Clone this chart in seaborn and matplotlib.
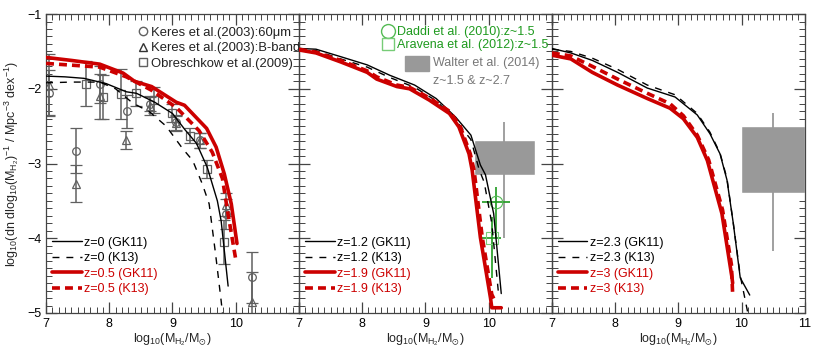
import matplotlib
matplotlib.use("Agg")
import matplotlib.pyplot as plt
from matplotlib.lines import Line2D
from matplotlib.patches import Rectangle
from matplotlib.ticker import MultipleLocator
import seaborn as sns

# ---- model curves ----
# panel 1: z=0 and z=0.5
gk11_z0_x = [7.0, 7.3, 7.6, 7.95, 8.27, 8.43, 8.72, 9.0, 9.2, 9.38, 9.55, 9.71, 9.77, 9.88]
gk11_z0_y = [-1.83, -1.84, -1.86, -1.93, -2.04, -2.06, -2.18, -2.33, -2.55, -2.73, -3.05, -3.5, -3.77, -4.64]
k13_z0_x = [7.0, 7.4, 7.85, 8.1, 8.37, 8.64, 8.9, 9.16, 9.32, 9.47, 9.58, 9.68, 9.77, 9.79]
k13_z0_y = [-1.92, -1.91, -1.91, -2.0, -2.19, -2.31, -2.5, -2.8, -2.96, -3.27, -3.54, -4.2, -4.84, -5.0]
gk11_z05_x = [7.0, 7.4, 7.85, 8.22, 8.4, 8.67, 9.06, 9.19, 9.54, 9.69, 9.82, 9.93, 10.02]
gk11_z05_y = [-1.58, -1.62, -1.67, -1.79, -1.9, -1.97, -2.18, -2.22, -2.53, -2.78, -3.14, -3.54, -4.07]
k13_z05_x = [7.0, 7.85, 8.27, 8.67, 9.06, 9.42, 9.63, 9.79, 9.87, 10.0]
k13_z05_y = [-1.66, -1.71, -1.84, -2.02, -2.25, -2.56, -2.85, -3.2, -3.63, -4.28]

# panel 2: z=1.2 and z=1.9
gk11_z12_x = [7.0, 7.27, 7.66, 8.08, 8.44, 8.83, 9.17, 9.48, 9.72, 9.87, 9.95, 10.08, 10.2]
gk11_z12_y = [-1.46, -1.47, -1.57, -1.68, -1.82, -1.95, -2.13, -2.38, -2.62, -3.02, -3.15, -3.67, -4.74]
k13_z12_x = [7.0, 7.27, 7.66, 8.08, 8.44, 8.83, 9.17, 9.48, 9.72, 9.85, 9.93, 10.05, 10.16]
k13_z12_y = [-1.47, -1.49, -1.6, -1.71, -1.85, -1.98, -2.16, -2.42, -2.68, -3.08, -3.25, -3.8, -4.77]
gk11_z19_x = [7.0, 7.27, 7.66, 8.08, 8.23, 8.55, 8.75, 9.06, 9.38, 9.53, 9.69, 9.74, 9.87, 10.03, 10.05, 10.2]
gk11_z19_y = [-1.48, -1.52, -1.64, -1.78, -1.87, -1.97, -2.0, -2.15, -2.33, -2.51, -2.87, -3.09, -3.99, -4.8, -4.93, -4.93]
k13_z19_x = [7.0, 7.27, 7.66, 8.08, 8.23, 8.55, 8.75, 9.06, 9.38, 9.55, 9.71, 9.77, 9.9, 10.05, 10.1]
k13_z19_y = [-1.47, -1.51, -1.62, -1.76, -1.84, -1.95, -1.98, -2.12, -2.3, -2.5, -2.87, -3.09, -3.99, -4.75, -4.84]

# panel 3: z=2.3 and z=3
gk11_z23_x = [7.0, 7.3, 7.64, 8.04, 8.51, 8.95, 9.3, 9.5, 9.66, 9.77, 9.87, 9.98, 10.13]
gk11_z23_y = [-1.46, -1.52, -1.62, -1.78, -1.99, -2.11, -2.35, -2.6, -2.87, -3.22, -3.8, -4.53, -4.76]
k13_z23_x = [7.0, 7.3, 7.64, 8.04, 8.51, 8.95, 9.3, 9.5, 9.66, 9.77, 9.87, 9.98, 10.1]
k13_z23_y = [-1.47, -1.5, -1.59, -1.74, -1.95, -2.08, -2.33, -2.58, -2.86, -3.2, -3.8, -4.5, -5.0]
gk11_z3_x = [7.0, 7.3, 7.64, 8.04, 8.51, 8.87, 9.08, 9.3, 9.46, 9.69, 9.85, 9.86]
gk11_z3_y = [-1.55, -1.6, -1.78, -1.95, -2.13, -2.26, -2.4, -2.65, -2.96, -3.67, -4.53, -4.6]
k13_z3_x = [7.0, 7.3, 7.64, 8.04, 8.51, 8.87, 9.08, 9.3, 9.48, 9.7, 9.84, 9.86]
k13_z3_y = [-1.52, -1.56, -1.7, -1.87, -2.06, -2.2, -2.36, -2.62, -2.95, -3.62, -4.35, -4.75]

# ---- observations ----
keres60_x = [7.05, 7.47, 7.85, 8.28, 8.65, 9.05, 9.44, 9.85, 10.26]
keres60_y = [-2.05, -2.83, -1.94, -2.30, -2.20, -2.45, -2.69, -3.68, -4.52]
keres60_err = [0.3, 0.3, 0.25, 0.22, 0.1, 0.1, 0.1, 0.2, 0.34]
keresB_x = [7.05, 7.47, 7.85, 8.26, 8.65, 9.05, 9.44, 9.85, 10.26]
keresB_y = [-1.95, -3.27, -2.10, -2.68, -2.23, -2.46, -2.69, -3.55, -4.85]
keresB_err = [0.42, 0.25, 0.3, 0.12, 0.12, 0.1, 0.1, 0.15, 0.4]
obres_x = [7.63, 7.9, 8.18, 8.43, 8.70, 9.0, 9.27, 9.54, 9.82]
obres_y = [-1.93, -2.11, -2.07, -2.06, -2.15, -2.33, -2.63, -3.07, -4.05]
obres_err = [0.3, 0.3, 0.33, 0.17, 0.17, 0.12, 0.1, 0.12, 0.3]

daddi_x, daddi_y = [10.12], [-3.52]
daddi_xerr, daddi_yerr = [[0.23], [0.22]], [[0.48], [0.21]]
aravena_x, aravena_y = [10.06], [-4.0]
aravena_xerr, aravena_yerr = [[0.19], [0.13]], [[0.53], [0.28]]

# Walter et al. (2014) boxes: x range, y range, whisker
walter2_x = [9.77, 10.73]
walter2_y = [-3.15, -2.69]
walter2_wx, walter2_wy = 10.25, [-4.0, -2.45]
walter3_x = [9.99, 11.0]
walter3_y = [-3.4, -2.5]
walter3_wx, walter3_wy = 10.5, [-4.17, -2.33]

RED = '#cc0000'
GREEN = '#1e9a1e'
GREY = '#999999'
EGREY = '#606060'

sns.set_style("ticks")
plt.rcParams['font.family'] = ['Liberation Sans', 'DejaVu Sans']
plt.rcParams['mathtext.fontset'] = 'custom'
plt.rcParams['mathtext.rm'] = 'Liberation Sans'
plt.rcParams['mathtext.it'] = 'Liberation Sans:italic'
plt.rcParams['mathtext.fallback'] = 'stixsans'
plt.rcParams['font.size'] = 9

fig, axes = plt.subplots(1, 3, figsize=(8.22, 3.61), dpi=100, sharey=True)
fig.subplots_adjust(left=0.056, right=0.979, bottom=0.133, top=0.961, wspace=0)

curves = [
    [(gk11_z0_x, gk11_z0_y, 'z=0 (GK11)'), (k13_z0_x, k13_z0_y, 'z=0 (K13)'),
     (gk11_z05_x, gk11_z05_y, 'z=0.5 (GK11)'), (k13_z05_x, k13_z05_y, 'z=0.5 (K13)')],
    [(gk11_z12_x, gk11_z12_y, 'z=1.2 (GK11)'), (k13_z12_x, k13_z12_y, 'z=1.2 (K13)'),
     (gk11_z19_x, gk11_z19_y, 'z=1.9 (GK11)'), (k13_z19_x, k13_z19_y, 'z=1.9 (K13)')],
    [(gk11_z23_x, gk11_z23_y, 'z=2.3 (GK11)'), (k13_z23_x, k13_z23_y, 'z=2.3 (K13)'),
     (gk11_z3_x, gk11_z3_y, 'z=3 (GK11)'), (k13_z3_x, k13_z3_y, 'z=3 (K13)')],
]
styles = [
    dict(color='black', linewidth=1.0, linestyle='-'),
    dict(color='black', linewidth=1.0, linestyle=(0, (5, 5))),
    dict(color=RED, linewidth=2.6, linestyle='-'),
    dict(color=RED, linewidth=2.6, linestyle=(0, (2.2, 1.4))),
]

for i, ax in enumerate(axes):
    ax.set_facecolor('none')
    # observations drawn first so models sit on top
    if i == 0:
        for xs, ys, err, mk in [(keres60_x, keres60_y, keres60_err, 'o'),
                                (keresB_x, keresB_y, keresB_err, '^'),
                                (obres_x, obres_y, obres_err, 's')]:
            ax.errorbar(xs, ys, yerr=err, fmt=mk, mfc='none', mec=EGREY, ms=5.5, mew=0.9,
                        ecolor=EGREY, elinewidth=1.1, capsize=4, capthick=1.1, zorder=2)
    if i == 1:
        ax.bar(sum(walter2_x) / 2, walter2_y[1] - walter2_y[0], width=walter2_x[1] - walter2_x[0],
               bottom=walter2_y[0], color=GREY, zorder=1)
        ax.vlines(walter2_wx, *walter2_wy, color=GREY, lw=1.3, zorder=1)
        ax.errorbar(daddi_x, daddi_y, xerr=daddi_xerr, yerr=daddi_yerr, fmt='o', mfc='none',
                    mec='#55bb55', ms=9, mew=0.8, ecolor=GREEN, elinewidth=1.2, zorder=2)
        ax.errorbar(aravena_x, aravena_y, xerr=aravena_xerr, yerr=aravena_yerr, fmt='s', mfc='none',
                    mec='#77cc77', ms=8, mew=0.8, ecolor=GREEN, elinewidth=1.2, zorder=2)
    if i == 2:
        ax.bar(sum(walter3_x) / 2, walter3_y[1] - walter3_y[0], width=walter3_x[1] - walter3_x[0],
               bottom=walter3_y[0], color=GREY, zorder=1)
        ax.vlines(walter3_wx, *walter3_wy, color=GREY, lw=1.3, zorder=1)

    handles = []
    for (xs, ys, lab), st in zip(curves[i], styles):
        sns.lineplot(x=xs, y=ys, ax=ax, sort=False, estimator=None, zorder=3, **st)
        handles.append(Line2D([], [], label=lab, **st))
    leg = ax.legend(handles=handles, loc='lower left', bbox_to_anchor=(-0.005, 0.035),
                    frameon=False, handlelength=2.35, handletextpad=0.2, labelspacing=0.28,
                    borderaxespad=0.2, labelcolor='linecolor', fontsize=9)
    if i < 2:
        ax.add_artist(leg)

    ax.set_xlim(7, 11)
    ax.set_ylim(-5, -1)
    ax.xaxis.set_major_locator(MultipleLocator(1))
    ax.xaxis.set_minor_locator(MultipleLocator(0.1))
    ax.yaxis.set_major_locator(MultipleLocator(1))
    ax.yaxis.set_minor_locator(MultipleLocator(0.1))
    ax.tick_params(which='both', direction='in', top=True, right=True, colors='#444444', labelcolor='black')
    ax.tick_params(which='major', length=8, width=0.9, labelsize=9)
    ax.tick_params(which='minor', length=4, width=0.7)
    ax.set_xticks([7, 8, 9, 10, 11])
    ax.set_xticklabels(['7', '8', '9', '10', '11' if i == 2 else ''])
    ax.set_xlabel(r'log$_{10}$(M$_{\mathrm{H_2}}$/M$_{\odot}$)', fontsize=9, labelpad=1)
    for sp in ax.spines.values():
        sp.set_color('#444444')
        sp.set_linewidth(0.9)

axes[0].set_yticks([-5, -4, -3, -2, -1])
axes[0].set_ylabel(r'log$_{10}$(dn dlog$_{10}$(M$_{\mathrm{H_2}}$)$^{-1}$ / Mpc$^{-3}$ dex$^{-1}$)',
                   fontsize=9, labelpad=4)
for ax in axes[1:]:
    ax.tick_params(axis='y', labelleft=False)

# observation legend, panel 1 (runs a bit past the panel edge, as in the original)
obs_handles = [
    Line2D([], [], marker='o', ls='none', mfc='none', mec=EGREY, ms=6, label='Keres et al.(2003):60μm'),
    Line2D([], [], marker='^', ls='none', mfc='none', mec='#333333', ms=6, label='Keres et al.(2003):B-band'),
    Line2D([], [], marker='s', ls='none', mfc='none', mec=EGREY, ms=6, label='Obreschkow et al.(2009)'),
]
axes[0].legend(handles=obs_handles, loc='upper right', bbox_to_anchor=(1.03, 0.98), frameon=False,
               handlelength=0.6, handletextpad=0.3, labelspacing=0.25, borderaxespad=0.1, fontsize=9.4,
               labelcolor='#222222')

# observation legend, panel 2
hi_handles = [
    Line2D([], [], marker='o', ls='none', mfc='none', mec='#55bb55', ms=10, label='Daddi et al. (2010):z~1.5'),
    Line2D([], [], marker='s', ls='none', mfc='none', mec='#77cc77', ms=9, label='Aravena et al. (2012):z~1.5'),
]
axes[1].legend(handles=hi_handles, loc='upper right', bbox_to_anchor=(1.01, 0.98), frameon=False,
               handlelength=0.8, handletextpad=0.3, labelspacing=0.05, borderaxespad=0.1, fontsize=9,
               labelcolor=GREEN)
axes[1].add_patch(Rectangle((0.42, 0.81), 0.095, 0.05, transform=axes[1].transAxes, color=GREY))
axes[1].text(0.53, 0.835, 'Walter et al. (2014)', transform=axes[1].transAxes, color='#777777',
             fontsize=9, va='center')
axes[1].text(0.53, 0.775, 'z~1.5 & z~2.7', transform=axes[1].transAxes, color='#777777',
             fontsize=9, va='center')

fig.savefig('out.png', dpi=100)
